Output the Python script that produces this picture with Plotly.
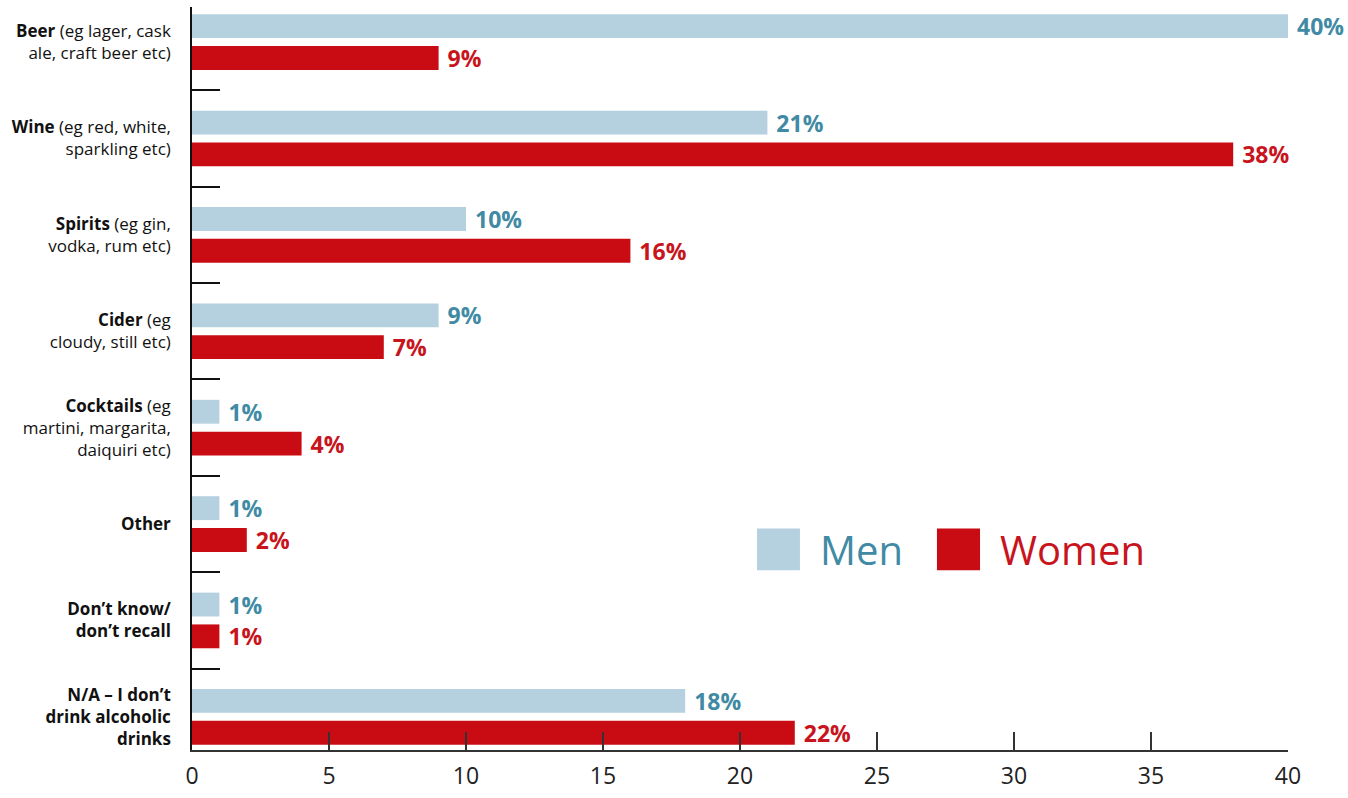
import plotly.graph_objects as go

categories = [
    "<b>Beer</b> (eg lager, cask<br>ale, craft beer etc)",
    "<b>Wine</b> (eg red, white,<br>sparkling etc)",
    "<b>Spirits</b> (eg gin,<br>vodka, rum etc)",
    "<b>Cider</b> (eg<br>cloudy, still etc)",
    "<b>Cocktails</b> (eg<br>martini, margarita,<br>daiquiri etc)",
    "<b>Other</b>",
    "<b>Don’t know/<br>don’t recall</b>",
    "<b>N/A – I don’t<br>drink alcoholic<br>drinks</b>",
]
men = [40, 21, 10, 9, 1, 1, 1, 18]
women = [9, 38, 16, 7, 4, 2, 1, 22]
x_ticks = [0, 5, 10, 15, 20, 25, 30, 35, 40]

MEN_BAR = "#b5d0de"
MEN_TXT = "#418aa4"
WOMEN_BAR = "#c90c13"
WOMEN_TXT = "#c8141c"
FONT = "Open Sans"

fig = go.Figure()
fig.add_trace(go.Bar(
    y=categories, x=men, orientation="h", name="Men",
    marker=dict(color=MEN_BAR, line=dict(width=0)),
    texttemplate="\u00a0%{x}%", textposition="outside",
    textfont=dict(family=FONT, size=23, color=MEN_TXT, weight="bold"),
    cliponaxis=False,
))
fig.add_trace(go.Bar(
    y=categories, x=women, orientation="h", name="Women",
    marker=dict(color=WOMEN_BAR, line=dict(width=0)),
    texttemplate="\u00a0%{x}%", textposition="outside",
    textfont=dict(family=FONT, size=23, color=WOMEN_TXT, weight="bold"),
    cliponaxis=False,
))

fig.update_layout(
    width=1348, height=798,
    margin=dict(l=192, r=60, t=7, b=43, pad=0),
    paper_bgcolor="white", plot_bgcolor="white",
    barmode="group", bargap=0.34, bargroupgap=0.25,
    uniformtext=dict(mode=False),
    showlegend=False,
    font=dict(family=FONT, color="#222"),
    xaxis=dict(
        range=[0, 40], tickvals=x_ticks, ticks="inside", ticklen=18,
        tickwidth=1.5, tickcolor="#333", showline=True, linecolor="#333",
        linewidth=1.5, showgrid=False, zeroline=False,
        tickfont=dict(family=FONT, size=23, color="#222"),
        ticklabelstandoff=5,
    ),
    yaxis=dict(
        range=[7.344, -0.364], type="category",
        ticks="inside", tickson="boundaries", ticklen=28, tickwidth=1.5,
        tickcolor="#111", showline=True, linecolor="#111", linewidth=1.5,
        showgrid=False, zeroline=False,
        tickfont=dict(family=FONT, size=17, color="#111"),
        ticklabelstandoff=16,
    ),
)
fig.update_traces(constraintext="none")

# manual legend
legend_items = [
    ("Men", MEN_BAR, MEN_TXT, 0.5155, 0.5547, 0.5712),
    ("Women", WOMEN_BAR, WOMEN_TXT, 0.6797, 0.7190, 0.7354),
]
for name, bar_c, txt_c, x0, x1, xt in legend_items:
    fig.add_shape(type="rect", xref="paper", yref="paper",
                  x0=x0, x1=x1, y0=0.2420, y1=0.2981,
                  fillcolor=bar_c, line=dict(width=0))
    fig.add_annotation(text=name, xref="paper", yref="paper",
                       x=xt, y=0.270, xanchor="left", yanchor="middle",
                       showarrow=False,
                       font=dict(family=FONT, size=40, color=txt_c))

fig.write_html(
    "out.html",
    config={"displayModeBar": False},
    post_script="document.body.style.margin='0';document.body.style.overflow='hidden';",
)
